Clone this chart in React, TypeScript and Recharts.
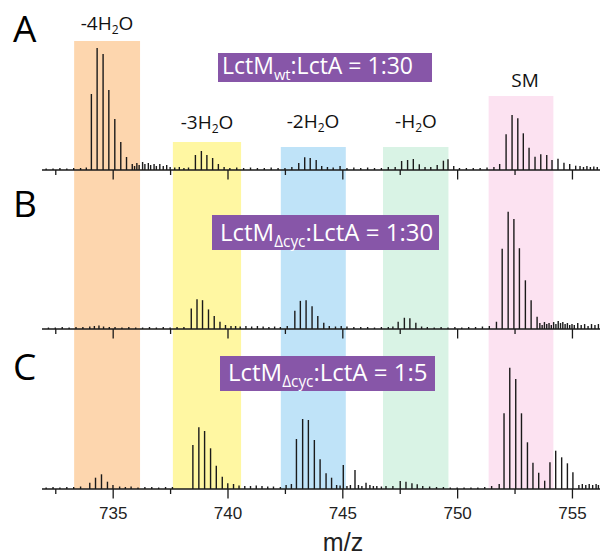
import React from 'react'
import { ComposedChart, Bar, XAxis, YAxis, ReferenceArea } from 'recharts'

// x axis
const mzDomain: [number, number] = [731.9, 756.2]
const mzTicks = [732.5, 735, 737.5, 740, 742.5, 745, 747.5, 750, 752.5, 755]

// shaded species windows (m/z)
const bandNames = ['-4H2O', '-3H2O', '-2H2O', '-H2O', 'SM']
const bandStart = [733.3, 737.6, 742.3, 746.75, 751.35]
const bandEnd = [736.17, 740.57, 745.13, 749.6, 754.17]

// ratio annotations
const ratioHead = ['LctM', 'LctM', 'LctM']
const ratioSub = ['wt', 'Δcyc', 'Δcyc']
const ratioTail = [':LctA = 1:30', ':LctA = 1:30', ':LctA = 1:5']
const panelNames = ['A', 'B', 'C']

// isotope peaks [m/z, intensity]
const peaksA: [number, number][] = [
  [734.07, 76], [734.32, 122], [734.58, 116], [734.83, 80], [735.09, 51], [735.35, 28], [735.6, 13],
  [738.6, 15], [738.86, 19], [739.1, 15], [739.35, 12], [739.6, 6],
  [743.1, 7], [743.36, 12.7], [743.6, 12], [743.86, 10], [744.1, 4],
  [747.58, 9], [747.84, 10], [748.09, 11], [748.35, 5.7], [748.6, 3], [749.13, 5], [749.4, 9.3], [749.6, 10.7],
  [752.13, 35.7], [752.39, 55], [752.64, 51.7], [752.88, 36.7], [753.13, 22.3], [753.39, 13.3],
  [753.64, 15.7], [753.9, 15], [754.13, 10], [754.39, 11.3], [754.65, 7.3], [754.9, 6], [755.16, 4.3],
]
const noiseA: [number, number][] = [
  [732.1, 1.5], [732.4, 1.5], [732.7, 2], [733.0, 1.5], [733.3, 2], [733.6, 2], [733.85, 2.5],
  [735.85, 6], [735.95, 4], [736.05, 7], [736.15, 5], [736.3, 8], [736.4, 6], [736.55, 7], [736.65, 5],
  [736.8, 6], [736.9, 4], [737.05, 6], [737.2, 4], [737.35, 5], [737.5, 3], [737.7, 2.5], [737.9, 3],
  [738.1, 2], [738.3, 2.5], [739.85, 3], [740.1, 2], [740.4, 2.5], [740.7, 2], [741.0, 2.5], [741.3, 2],
  [741.6, 2], [741.9, 2.5], [742.2, 2], [742.5, 2], [742.8, 3], [744.35, 3], [744.6, 2.5], [744.9, 4],
  [745.2, 2], [745.5, 2.5], [745.8, 2], [746.1, 2.5], [746.4, 2], [746.7, 2], [747.0, 3], [747.3, 3],
  [748.85, 3], [749.85, 4], [750.1, 2], [750.4, 2], [750.7, 2], [751.0, 2], [751.3, 2.5], [751.6, 3],
  [751.85, 6], [755.35, 4], [755.5, 3], [755.65, 4], [755.8, 3], [755.95, 3.5], [756.1, 3],
]

const peaksB: [number, number][] = [
  [738.42, 20.7], [738.67, 30], [738.91, 29], [739.17, 19.7], [739.42, 13], [739.67, 7.3], [739.91, 4],
  [742.93, 18.3], [743.17, 28.3], [743.42, 29], [743.68, 23], [743.93, 13], [744.19, 6.3], [744.43, 3],
  [747.43, 7.3], [747.7, 11.3], [747.94, 10.7], [748.2, 6.3],
  [751.71, 7.3], [751.96, 80.7], [752.22, 118], [752.47, 110.7], [752.71, 81.3], [752.97, 49],
  [753.22, 29], [753.48, 12.3],
]
const noiseB: [number, number][] = [
  [732.2, 1.5], [732.5, 1.5], [732.8, 2], [733.1, 1.5], [733.4, 2], [733.7, 2], [734.0, 2.5], [734.2, 3],
  [734.4, 3.5], [734.6, 2.5], [734.85, 2], [735.1, 2], [735.4, 1.5], [735.7, 2], [736.0, 1.5], [736.3, 1.5],
  [736.6, 2], [736.9, 1.5], [737.2, 2], [737.5, 1.5], [737.8, 2], [738.1, 2], [740.15, 3], [740.35, 3],
  [740.55, 2.5], [740.8, 3], [741.05, 2.5], [741.3, 3], [741.55, 2.5], [741.8, 2], [742.05, 2.5], [742.3, 2],
  [742.6, 3], [744.7, 2.5], [744.95, 3], [745.2, 2.5], [745.5, 2], [745.8, 2], [746.1, 2], [746.4, 1.5],
  [746.7, 2], [747.0, 2], [747.2, 2.5], [748.45, 2.5], [748.7, 2], [749.0, 1.5], [749.3, 2], [749.6, 1.5],
  [749.9, 2], [750.2, 1.5], [750.5, 2], [750.8, 2], [751.1, 2.5], [751.4, 3], [753.6, 6], [753.7, 4],
  [753.8, 7], [753.9, 5], [754.0, 6], [754.1, 4], [754.2, 7], [754.3, 5], [754.4, 8], [754.5, 6],
  [754.6, 7], [754.7, 5], [754.8, 6], [754.9, 4], [755.0, 5], [755.1, 4], [755.25, 6], [755.4, 4],
  [755.55, 5], [755.7, 3], [755.85, 5], [756.0, 4], [756.15, 5],
]

const peaksC: [number, number][] = [
  [734.0, 6.3], [734.25, 11.3], [734.51, 14.7], [734.77, 7.3], [735.01, 4],
  [738.49, 44], [738.75, 61.7], [739.0, 58], [739.26, 40.7], [739.51, 23.3], [739.77, 12.3], [740.01, 5.7], [740.26, 5],
  [742.78, 5], [743.0, 50], [743.27, 70], [743.52, 69], [743.78, 49], [744.03, 29.7], [744.29, 15.7],
  [744.53, 11.3], [745.04, 24], [745.55, 19],
  [746.03, 6.3], [747.52, 8], [747.77, 7.3], [748.03, 5.7], [748.26, 4.7],
  [751.83, 5], [752.04, 75.7], [752.29, 121.3], [752.55, 110], [752.8, 75.7], [753.06, 46.7], [753.3, 26.3],
  [753.55, 16.3], [753.81, 8.3], [754.04, 26.7], [754.29, 38.3], [754.55, 31.7], [754.8, 25.7], [755.04, 16.7],
]
const noiseC: [number, number][] = [
  [732.1, 1.5], [732.4, 2], [732.7, 1.5], [733.0, 2], [733.3, 2], [733.6, 2.5], [735.3, 2.5], [735.55, 2],
  [735.8, 2.5], [736.1, 1.5], [736.4, 2], [736.7, 2], [737.0, 1.5], [737.3, 2], [737.6, 2], [740.5, 3.5],
  [740.75, 3], [741.0, 3], [741.25, 3.5], [741.5, 3], [741.75, 2.5], [742.0, 2.5], [742.3, 2], [742.55, 4],
  [744.75, 4], [744.9, 3.5], [745.2, 3], [745.35, 4], [745.7, 4], [745.85, 3], [746.2, 4], [746.35, 3],
  [746.5, 3], [746.7, 2.5], [746.9, 3], [747.2, 3], [748.5, 3], [748.8, 2.5], [749.1, 2], [749.4, 2],
  [749.7, 1.5], [750.0, 1.5], [750.3, 1.5], [750.6, 1.5], [750.9, 1.5], [751.2, 2], [751.5, 3],
  [755.3, 4], [755.45, 5], [755.6, 4], [755.75, 5], [755.9, 4], [756.05, 5], [756.15, 4],
]

// styling / layout
const bandColors = ['#fdd6ae', '#fff7a2', '#bfe3f8', '#d9f3e5', '#fce2f1']
const bandTopA = [129, 28, 23, 23, 74] // how far each band reaches into panel A
const PURPLE = '#8756a8'
const INK = '#1a1a1a'
const labelFont = '"Open Sans", "Noto Sans", sans-serif'
const axisFont = '"Liberation Sans", Arial, sans-serif'

const toRows = (peaks: [number, number][], noise: [number, number][]) =>
  [...peaks, ...noise].sort((a, b) => a[0] - b[0]).map(([mz, v]) => ({ mz, v }))

function MzTick(props: any) {
  const { x, y, payload, showLabel } = props
  const major = payload.value % 5 === 0
  return (
    <g>
      <line x1={x} x2={x} y1={y} y2={y + (major ? 9.5 : 5)} stroke={INK} strokeWidth={1.3} />
      {showLabel && major && (
        <text x={x} y={y + 30} textAnchor="middle" fontFamily={axisFont} fontSize={17} fill="#222">
          {payload.value}
        </text>
      )}
    </g>
  )
}

interface PanelProps {
  rows: { mz: number; v: number }[]
  top: number
  marginTop: number
  plotHeight: number
  axisHeight: number
  showLabels: boolean
  bandTops?: number[]
}

function SpectrumPanel({ rows, top, marginTop, plotHeight, axisHeight, showLabels, bandTops }: PanelProps) {
  return (
    <div style={{ position: 'absolute', left: 0, top }}>
      <ComposedChart
        width={600}
        height={marginTop + plotHeight + axisHeight}
        data={rows}
        margin={{ top: marginTop, right: 0, bottom: 0, left: 42 }}
      >
        {bandStart.map((s, i) =>
          bandTops ? (
            <ReferenceArea key={i} x1={s} x2={bandEnd[i]} y1={0} y2={bandTops[i]} fill={bandColors[i]} fillOpacity={1} stroke="none" />
          ) : (
            <ReferenceArea key={i} x1={s} x2={bandEnd[i]} fill={bandColors[i]} fillOpacity={1} stroke="none" />
          )
        )}
        <XAxis
          dataKey="mz"
          type="number"
          domain={mzDomain}
          ticks={mzTicks}
          interval={0}
          allowDataOverflow
          height={axisHeight}
          tickSize={0}
          tickMargin={0}
          tickLine={false}
          axisLine={{ stroke: INK, strokeWidth: 1.6 }}
          tick={(p: any) => <MzTick {...p} showLabel={showLabels} />}
        />
        <YAxis hide type="number" domain={[0, 160]} allowDataOverflow />
        <Bar dataKey="v" barSize={1.4} fill={INK} isAnimationActive={false} />
      </ComposedChart>
    </div>
  )
}

export default function App() {
  // band label placement (centre x, baseline y)
  const bandLabelPos = [[107, 30], [207, 129], [313, 128], [416, 128], [525, 87]]
  const boxes = [
    { x: 218, y: 53, w: 214, h: 29, tx: 222, ty: 74, fs: 23 },
    { x: 212, y: 215, w: 227, h: 35, tx: 220, ty: 241, fs: 24 },
    { x: 220, y: 356, w: 215, h: 35, tx: 228, ty: 381, fs: 24 },
  ]
  const letterBase = [42, 217, 380]

  return (
    <div style={{ position: 'absolute', left: 0, top: 0, width: 600, height: 558, background: '#fff', overflow: 'hidden' }}>
      <SpectrumPanel rows={toRows(peaksC, noiseC)} top={329} marginTop={0} plotHeight={160} axisHeight={69} showLabels />
      <SpectrumPanel rows={toRows(peaksB, noiseB)} top={170} marginTop={0} plotHeight={159} axisHeight={20} showLabels={false} />
      <SpectrumPanel rows={toRows(peaksA, noiseA)} top={0} marginTop={10} plotHeight={160} axisHeight={20} showLabels={false} bandTops={bandTopA} />

      <svg width={600} height={558} style={{ position: 'absolute', left: 0, top: 0, pointerEvents: 'none' }}>
        {bandNames.map((name, i) => {
          const [cx, by] = bandLabelPos[i]
          const m = name.match(/^(.*H)2(O)$/)
          return (
            <text key={name} x={cx} y={by} textAnchor="middle" fontFamily={labelFont} fontSize={19} fill="#111">
              {m ? (
                <>
                  {m[1]}
                  <tspan fontSize={12} dy={4}>2</tspan>
                  <tspan dy={-4}>{m[2]}</tspan>
                </>
              ) : (
                name
              )}
            </text>
          )
        })}

        {boxes.map((b, i) => {
          const ss = b.fs * 0.64
          return (
            <g key={i}>
              <rect x={b.x} y={b.y} width={b.w} height={b.h} fill={PURPLE} />
              <text x={b.tx} y={b.ty} fontFamily={labelFont} fontSize={b.fs} fill="#fff">
                {ratioHead[i]}
                <tspan fontSize={ss} dy={ss * 0.4}>{ratioSub[i]}</tspan>
                <tspan dy={-ss * 0.4}>{ratioTail[i]}</tspan>
              </text>
            </g>
          )
        })}

        {panelNames.map((p, i) => (
          <text key={p} x={13} y={letterBase[i]} fontFamily={labelFont} fontSize={37} fill="#000">
            {p}
          </text>
        ))}

        <text x={343} y={551} textAnchor="middle" fontFamily={axisFont} fontSize={25} fill="#222">
          m/z
        </text>
      </svg>
    </div>
  )
}
